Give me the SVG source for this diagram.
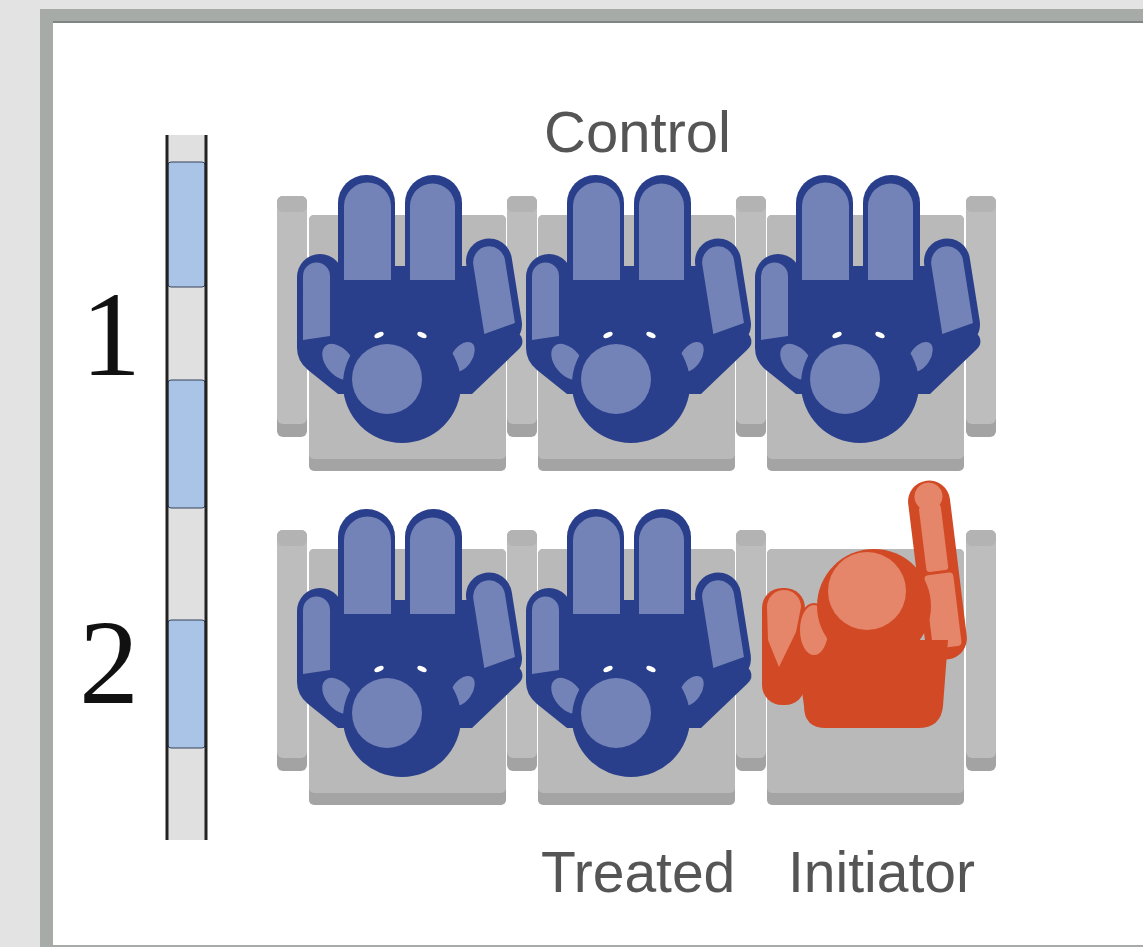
<svg xmlns="http://www.w3.org/2000/svg" xmlns:xlink="http://www.w3.org/1999/xlink" width="1143" height="947" viewBox="0 0 1143 947">
  <style>
    .dk{fill:#2a3f8b}
    .lt{fill:#7483b7}
    .rdk{fill:#d24a25}
    .rlt{fill:#e5866a}
    .arm{fill:#bdbdbd}
    .armcap{fill:#b3b3b3}
    .armsh{fill:#a3a3a3}
    .seat{fill:#b9b9b9}
    .seatsh{fill:#a4a4a4}
    .lbl{font-family:"Liberation Sans",Arial,Helvetica,sans-serif;font-size:57px;fill:#555555}
    .num{font-family:"Liberation Serif","Times New Roman",serif;font-size:120px;fill:#111111;text-anchor:middle}
  </style>
  <defs>
    <!-- armrest, drawn at origin -->
    <g id="armrest">
      <rect class="armsh" x="0" y="0" width="30" height="241" rx="6"/>
      <rect class="arm" x="0" y="0" width="30" height="228" rx="6"/>
      <rect class="armcap" x="0" y="0" width="30" height="16" rx="6"/>
    </g>
    <!-- seat cushion, drawn at origin -->
    <g id="seatbase">
      <rect class="seatsh" x="0" y="0" width="197" height="256" rx="5"/>
      <rect class="seat" x="0" y="0" width="197" height="244" rx="5"/>
    </g>
    <!-- seated passenger seen from above (blue) -->
    <g id="passenger">
      <rect class="dk" x="338" y="175" width="57" height="125" rx="28"/>
      <rect class="dk" x="405" y="175" width="57" height="125" rx="28"/>
      <rect class="dk" x="297" y="254" width="46" height="110" rx="23"/>
      <rect class="dk" x="471" y="238" width="46" height="110" rx="23" transform="rotate(-9 494 293)"/>
      <path class="dk" d="M330 266 L470 266 L482 300 L521 336 Q525 344 518 350 L472 394 L338 394 L308 370 Q297 361 297 348 L297 300 Z"/>
      <path class="lt" d="M344 280 V206 A23.5 23.5 0 0 1 391 206 V280 Z"/>
      <path class="lt" d="M410 280 V206 A22.5 22.5 0 0 1 455 206 V280 Z"/>
      <path class="lt" d="M303 340 V276 A13.5 13.5 0 0 1 330 276 V336 Z"/>
      <path class="lt" d="M478 332 V262 A16 16 0 0 1 510 262 V326 Z" transform="rotate(-9 494 293)"/>
      <ellipse class="lt" cx="339" cy="362" rx="14" ry="22" transform="rotate(-40 339 362)" stroke="#2a3f8b" stroke-width="2"/>
      <ellipse class="lt" cx="462" cy="357" rx="11" ry="18" transform="rotate(35 462 357)" stroke="#2a3f8b" stroke-width="2"/>
      <circle class="dk" cx="402" cy="384" r="59"/>
      <circle class="lt" cx="387" cy="379" r="35"/>
      <ellipse cx="379" cy="335" rx="5" ry="2.5" fill="#ffffff" transform="rotate(-25 379 335)"/>
      <ellipse cx="422" cy="335" rx="5" ry="2.5" fill="#ffffff" transform="rotate(25 422 335)"/>
    </g>
  </defs>

  <!-- page frame -->
  <rect x="0" y="0" width="1143" height="947" fill="#e3e3e3"/>
  <rect x="40" y="9" width="1103" height="938" fill="#a6aba8"/>
  <rect x="53" y="21" width="1090" height="2" fill="#7f8582"/>
  <rect x="53" y="23" width="1090" height="922" fill="#ffffff"/>

  <!-- window strip -->
  <g id="windows">
    <rect x="167" y="135" width="39" height="705" fill="#e0e0e0"/>
    <rect x="168" y="162" width="37" height="125" rx="3" fill="#a9c4e6" stroke="#34405a" stroke-width="1"/>
    <rect x="168" y="380" width="37" height="128" rx="3" fill="#a9c4e6" stroke="#34405a" stroke-width="1"/>
    <rect x="168" y="620" width="37" height="128" rx="3" fill="#a9c4e6" stroke="#34405a" stroke-width="1"/>
    <line x1="167" y1="135" x2="167" y2="840" stroke="#222222" stroke-width="3"/>
    <line x1="206" y1="135" x2="206" y2="840" stroke="#222222" stroke-width="3"/>
  </g>

  <!-- row numbers -->
  <text class="num" x="111" y="375">1</text>
  <text class="num" x="109" y="703">2</text>

  <!-- armrests -->
  <g id="armrests">
    <use xlink:href="#armrest" x="277" y="196"/>
    <use xlink:href="#armrest" x="507" y="196"/>
    <use xlink:href="#armrest" x="736" y="196"/>
    <use xlink:href="#armrest" x="966" y="196"/>
    <use xlink:href="#armrest" x="277" y="530"/>
    <use xlink:href="#armrest" x="507" y="530"/>
    <use xlink:href="#armrest" x="736" y="530"/>
    <use xlink:href="#armrest" x="966" y="530"/>
  </g>

  <!-- row 1 -->
  <g id="seat-1a">
    <use xlink:href="#seatbase" x="309" y="215"/>
    <use xlink:href="#passenger"/>
  </g>
  <g id="seat-1b">
    <use xlink:href="#seatbase" x="538" y="215"/>
    <use xlink:href="#passenger" x="229" y="0"/>
  </g>
  <g id="seat-1c">
    <use xlink:href="#seatbase" x="767" y="215"/>
    <use xlink:href="#passenger" x="458" y="0"/>
  </g>

  <!-- row 2 -->
  <g id="seat-2a">
    <use xlink:href="#seatbase" x="309" y="549"/>
    <use xlink:href="#passenger" x="0" y="334"/>
  </g>
  <g id="seat-2b">
    <use xlink:href="#seatbase" x="538" y="549"/>
    <use xlink:href="#passenger" x="229" y="334"/>
  </g>
  <g id="seat-2c">
    <use xlink:href="#seatbase" x="767" y="549"/>
    <!-- initiator, arm raised -->
    <g id="initiator">
      <g transform="rotate(-7 937 566)">
        <rect class="rdk" x="916" y="480" width="42" height="180" rx="21"/>
        <circle class="rlt" cx="937" cy="496" r="14"/>
        <rect class="rlt" x="926" y="505" width="22" height="66" rx="3"/>
        <rect class="rlt" x="923" y="574" width="29" height="74" rx="4"/>
      </g>
      <rect class="rdk" x="762" y="588" width="43" height="117" rx="20"/>
      <path class="rdk" d="M795 640 L948 640 L943 706 Q941 728 918 728 L826 728 Q804 728 804 706 Z"/>
      <path class="rlt" d="M767 607 A17 17 0 0 1 801 607 L796 632 L779 667 L768 640 Z"/>
      <ellipse class="rlt" cx="814" cy="630" rx="15" ry="26" stroke="#d24a25" stroke-width="2"/>
      <circle class="rdk" cx="874" cy="606" r="57"/>
      <circle class="rlt" cx="867" cy="591" r="39"/>
    </g>
  </g>

  <!-- labels -->
  <text class="lbl" x="544" y="152" style="font-size:58px">Control</text>
  <text class="lbl" x="541" y="892">Treated</text>
  <text class="lbl" x="788" y="892">Initiator</text>
</svg>
